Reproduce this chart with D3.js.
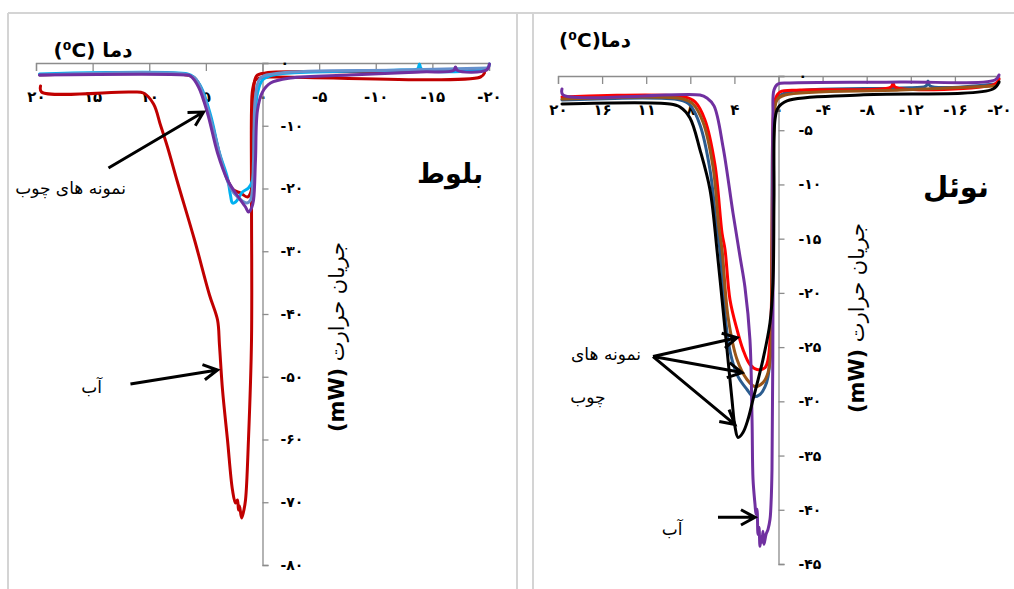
<!DOCTYPE html>
<html>
<head>
<meta charset="utf-8">
<script src="https://cdn.jsdelivr.net/npm/d3@7"></script>
<style>
  body { margin: 0; background: #fff; }
  svg { display: block; font-family: 'DejaVu Sans', sans-serif; }
</style>
</head>
<body>
<svg id="chart" width="1014" height="589"></svg>
<script>
// temperature (°C), heat flow (mW)
const oakWater = [[19.6, -3.67], [19.51, -4.62], [11.66, -4.62], [10.51, -4.78], [9.62, -6.53], [9.01, -9.88], [8.39, -13.39], [7.51, -18.96], [6.0, -28.21], [4.68, -36.97], [3.97, -40.96], [3.8, -44.94], [3.53, -52.11], [3.09, -60.08], [2.65, -68.05], [2.38, -70.12], [2.21, -69.64], [2.12, -71.24], [2.03, -70.6], [1.85, -72.51], [1.68, -71.55], [1.5, -69.64], [1.24, -60.08], [0.97, -44.14], [0.97, -21.83], [0.97, -7.49], [0.88, -4.3], [0.62, -2.71], [0.18, -2.39], [-0.71, -2.23], [-19.25, -2.23], [-19.6, -1.59]];
const oakWoodRed = [[19.69, -1.91], [6.71, -1.91], [6.0, -2.39], [5.3, -4.62], [4.5, -9.4], [3.71, -15.14], [3.0, -18.96], [2.56, -20.24], [1.94, -20.72], [1.32, -21.35], [0.97, -20.24], [0.79, -12.27], [0.79, -4.3], [0.53, -2.07], [-0.26, -1.59], [-12.19, -1.43], [-19.78, -1.12]];
const oakWoodCyan = [[19.69, -1.75], [6.62, -1.75], [6.09, -2.23], [5.39, -3.98], [4.59, -8.29], [3.8, -14.34], [3.09, -18.33], [2.83, -21.04], [2.65, -22.31], [2.38, -22.15], [1.77, -20.56], [1.24, -19.92], [0.88, -18.65], [0.71, -10.2], [0.44, -4.78], [0.0, -2.71], [-0.97, -1.91], [-2.47, -1.59], [-12.19, -1.12], [-13.69, -0.96], [-13.86, -0.16], [-14.04, -0.96], [-19.87, -0.8], [-20.04, -0.16]];
const oakWoodBlue = [[19.69, -1.91], [6.53, -1.91], [5.83, -2.71], [5.12, -5.58], [4.33, -10.68], [3.53, -16.25], [2.83, -19.92], [2.12, -21.51], [1.41, -22.31], [1.06, -21.83], [0.79, -15.46], [0.62, -5.42], [0.18, -2.39], [-1.59, -1.59], [-12.19, -1.12], [-19.96, -0.8]];
const oakWoodPurple = [[19.69, -1.91], [6.8, -1.91], [6.36, -2.07], [5.65, -3.82], [4.86, -7.97], [3.97, -14.34], [3.09, -18.65], [2.38, -20.72], [1.5, -22.95], [1.24, -23.75], [0.97, -23.11], [0.79, -21.83], [0.62, -15.46], [0.44, -7.49], [0.0, -4.62], [-0.71, -3.19], [-2.47, -2.39], [-7.77, -1.91], [-13.95, -1.43], [-16.87, -1.2], [-17.04, -0.64], [-17.22, -1.2], [-19.78, -1.12], [-20.04, -0.16]];

const noelWater = [[19.64, -1.2], [19.55, -1.75], [7.12, -1.75], [6.49, -2.03], [5.85, -2.76], [5.03, -6.54], [4.13, -12.62], [3.49, -16.67], [3.04, -19.5], [2.59, -24.31], [2.4, -31.68], [2.31, -37.2], [2.13, -39.5], [2.04, -40.42], [1.95, -39.96], [1.86, -42.27], [1.77, -41.62], [1.68, -43.37], [1.59, -42.54], [1.5, -43.0], [1.41, -41.99], [1.32, -43.19], [1.13, -42.27], [0.95, -41.8], [0.77, -40.88], [0.68, -39.5], [0.59, -36.28], [0.5, -20.63], [0.5, -4.05], [0.41, -1.29], [0.05, -0.74], [-1.04, -0.64], [-11.02, -0.55], [-19.64, -0.37], [-20.0, 0.09]];
const noelRed = [[19.64, -1.93], [8.48, -1.93], [7.57, -2.39], [6.67, -4.05], [5.76, -8.2], [5.12, -14.5], [4.85, -16.02], [4.4, -20.63], [3.76, -23.39], [3.22, -25.23], [2.59, -26.61], [1.95, -27.07], [1.22, -26.89], [0.95, -26.15], [0.68, -22.47], [0.59, -16.02], [0.5, -6.81], [0.32, -2.21], [-0.14, -1.47], [-1.95, -1.29], [-10.21, -1.01], [-10.39, -0.64], [-10.57, -1.01], [-19.64, -0.74], [-20.0, -0.28]];
const noelBrown = [[19.64, -2.12], [8.66, -2.12], [7.76, -2.58], [6.85, -4.24], [5.94, -8.38], [5.4, -14.0], [5.12, -16.02], [4.58, -22.19], [3.76, -26.15], [2.86, -27.99], [2.13, -28.64], [1.41, -28.27], [0.95, -27.35], [0.68, -25.23], [0.59, -16.02], [0.41, -4.97], [0.14, -2.21], [-0.59, -1.75], [-11.02, -1.29], [-19.64, -0.92]];
const noelBlue = [[19.64, -2.21], [8.93, -2.21], [8.03, -2.67], [7.12, -4.51], [6.21, -8.66], [5.58, -14.2], [5.31, -16.02], [4.67, -23.66], [4.22, -26.15], [3.67, -27.72], [2.86, -28.91], [2.31, -29.56], [1.68, -29.37], [1.22, -28.64], [0.95, -27.72], [0.68, -24.31], [0.59, -16.02], [0.5, -4.97], [0.23, -2.21], [-0.59, -1.57], [-11.02, -1.1], [-13.38, -0.92], [-13.56, -0.46], [-13.74, -0.92], [-19.64, -0.74]];
const noelBlack = [[19.64, -2.58], [9.85, -2.58], [8.93, -2.85], [8.03, -3.87], [7.12, -6.81], [6.21, -10.5], [5.58, -16.02], [5.12, -20.63], [4.67, -25.23], [4.22, -29.83], [3.95, -32.32], [3.67, -33.33], [3.22, -32.87], [2.77, -31.68], [2.31, -29.83], [1.41, -26.15], [0.77, -22.74], [0.5, -19.06], [0.41, -11.42], [0.32, -4.05], [0.05, -2.95], [-0.77, -2.3], [-7.39, -1.75], [-19.46, -1.2], [-20.0, -0.55]];

const oakXTicks = [20, 15, 10, 5, 0, -5, -10, -15, -20];
const oakXLabels = ['۲۰', '۱۵', '۱۰', '۵', '۰', '-۵', '-۱۰', '-۱۵', '-۲۰'];
const oakYTicks = [0, -10, -20, -30, -40, -50, -60, -70, -80];
const oakYLabels = ['۰', '-۱۰', '-۲۰', '-۳۰', '-۴۰', '-۵۰', '-۶۰', '-۷۰', '-۸۰'];
const noelXTicks = [20, 16, 12, 8, 4, 0, -4, -8, -12, -16, -20];
const noelXLabels = ['۲۰', '۱۶', '۱۱', '۸', '۴', '۰', '-۴', '-۸', '-۱۲', '-۱۶', '-۲۰'];
const noelYTicks = [0, -5, -10, -15, -20, -25, -30, -35, -40, -45];
const noelYLabels = ['۰', '-۵', '-۱۰', '-۱۵', '-۲۰', '-۲۵', '-۳۰', '-۳۵', '-۴۰', '-۴۵'];

class DscPanelRenderer {
  constructor(svg, frame) {
    this.svg = svg;
    this.frame = frame;
    this.g = svg.append('g');
    this.x = d3.scaleLinear().domain(frame.xDomain).range(frame.xRange);
    this.y = d3.scaleLinear().domain(frame.yDomain).range(frame.yRange);
  }

  drawAxes(xTicks, xLabels, yTicks, yLabels) {
    const xAxis = d3
      .axisBottom(this.x)
      .tickValues(xTicks)
      .tickSize(8)
      .tickPadding(20)
      .tickFormat((d, i) => xLabels[i]);
    const gx = this.g.append('g').attr('transform', `translate(0, ${this.y(0)})`).call(xAxis);
    const yAxis = d3
      .axisRight(this.y)
      .tickValues(yTicks)
      .tickSize(6)
      .tickPadding(this.frame.yPad)
      .tickFormat((d, i) => yLabels[i]);
    const gy = this.g.append('g').attr('transform', `translate(${this.x(0)}, 0)`).call(yAxis);
    [gx, gy].forEach((a) => {
      a.select('.domain').attr('stroke', '#8c8c8c').attr('stroke-width', 1.3);
      a.selectAll('.tick line').attr('stroke', '#8c8c8c').attr('stroke-width', 1.3);
      a.selectAll('.tick text').attr('fill', '#000').style('font-size', '15px').style('font-weight', 'bold').style('font-family', 'DejaVu Sans');
    });
    gy.selectAll('.tick text').style('font-size', '14px');
  }

  drawCurves(series) {
    const line = d3
      .line()
      .x((d) => this.x(d[0]))
      .y((d) => this.y(d[1]))
      .curve(d3.curveCatmullRom.alpha(0.5));
    series.forEach((s) => {
      this.g
        .append('path')
        .attr('d', line(s.data))
        .attr('fill', 'none')
        .attr('stroke', s.color)
        .attr('stroke-width', 3)
        .attr('stroke-linejoin', 'round')
        .attr('stroke-linecap', 'round');
    });
  }

  drawArrow(from, to) {
    const x1 = this.x(from[0]);
    const y1 = this.y(from[1]);
    const x2 = this.x(to[0]);
    const y2 = this.y(to[1]);
    const angle = Math.atan2(y2 - y1, x2 - x1);
    const head = 16;
    const path = d3.path();
    path.moveTo(x1, y1);
    path.lineTo(x2, y2);
    path.moveTo(x2 - head * Math.cos(angle - 0.5), y2 - head * Math.sin(angle - 0.5));
    path.lineTo(x2, y2);
    path.lineTo(x2 - head * Math.cos(angle + 0.5), y2 - head * Math.sin(angle + 0.5));
    this.g
      .append('path')
      .attr('d', path.toString())
      .attr('fill', 'none')
      .attr('stroke', '#000')
      .attr('stroke-width', 3)
      .attr('stroke-linejoin', 'miter');
  }

  drawNote(pos, text, size = 17) {
    this.g
      .append('text')
      .attr('x', this.x(pos[0]))
      .attr('y', this.y(pos[1]))
      .attr('dy', '0.35em')
      .attr('text-anchor', 'middle')
      .style('font-size', size + 'px')
      .text(text);
  }

  drawTitles(t) {
    this.g
      .append('text')
      .attr('x', t.unit[0])
      .attr('y', t.unit[1])
      .attr('text-anchor', 'middle')
      .style('font-size', '20px')
      .style('font-weight', 'bold')
      .text(t.unitText);
    this.g
      .append('text')
      .attr('x', t.name[0])
      .attr('y', t.name[1])
      .attr('text-anchor', 'middle')
      .style('font-size', t.nameSize + 'px')
      .style('font-weight', 'bold')
      .text(t.nameText);
    const yl = this.g
      .append('text')
      .attr('transform', `translate(${t.yLabel[0]}, ${t.yLabel[1]}) rotate(-90)`)
      .attr('text-anchor', 'middle')
      .attr('dy', '0.35em')
      .style('font-size', '21px');
    yl.append('tspan').style('font-weight', 'bold').text('(mW)');
    yl.append('tspan').text('  جریان حرارت');
  }
}

const svg = d3.select('#chart');

// panel frames
svg.append('line').attr('x1', 8).attr('x2', 1014).attr('y1', 13).attr('y2', 13).attr('stroke', '#d4d4d4').attr('stroke-width', 2);
[8, 517, 533].forEach((x) => {
  svg.append('line').attr('x1', x).attr('x2', x).attr('y1', 13).attr('y2', 589).attr('stroke', '#d4d4d4').attr('stroke-width', 2);
});

const oak = new DscPanelRenderer(svg, { xDomain: [20, -20], xRange: [36, 489], yDomain: [0, -80], yRange: [63, 565], yPad: 12 });
oak.drawAxes(oakXTicks, oakXLabels, oakYTicks, oakYLabels);
oak.drawCurves([
  { data: oakWater, color: '#c00000' },
  { data: oakWoodRed, color: '#c00000' },
  { data: oakWoodCyan, color: '#00b0f0' },
  { data: oakWoodBlue, color: '#6590cc' },
  { data: oakWoodPurple, color: '#7030a0' },
]);
oak.drawArrow([13.6, -16.73], [5.21, -7.81]);
oak.drawArrow([11.66, -51.16], [3.97, -48.92]);
oak.drawNote([16.95, -19.92], 'نمونه های چوب');
oak.drawNote([15.1, -51.6], 'آب');
oak.drawTitles({ unit: [93, 57], unitText: '(⁰C) دما', name: [450, 183], nameText: 'بلوط', nameSize: 27, yLabel: [337, 337] });

const noel = new DscPanelRenderer(svg, { xDomain: [20, -20], xRange: [558, 999], yDomain: [0, -45], yRange: [76, 564], yPad: 14 });
noel.drawAxes(noelXTicks, noelXLabels, noelYTicks, noelYLabels);
noel.drawCurves([
  { data: noelBlue, color: '#2b5c8f' },
  { data: noelRed, color: '#ff0000' },
  { data: noelBrown, color: '#9a5518' },
  { data: noelWater, color: '#7030a0' },
  { data: noelBlack, color: '#000000' },
]);
noel.drawArrow([11.38, -25.87], [3.76, -24.13]);
noel.drawArrow([11.38, -25.87], [3.31, -27.35]);
noel.drawArrow([11.38, -25.87], [3.95, -32.14]);
noel.drawArrow([5.49, -40.7], [2.13, -40.7]);
noel.drawNote([15.64, -25.6], 'نمونه های');
noel.drawNote([17.28, -29.6], 'چوب');
noel.drawNote([9.66, -41.8], 'آب');
noel.drawTitles({ unit: [595, 47], unitText: '(⁰C)دما', name: [956, 197], nameText: 'نوئل', nameSize: 29, yLabel: [857, 318] });
</script>
</body>
</html>
